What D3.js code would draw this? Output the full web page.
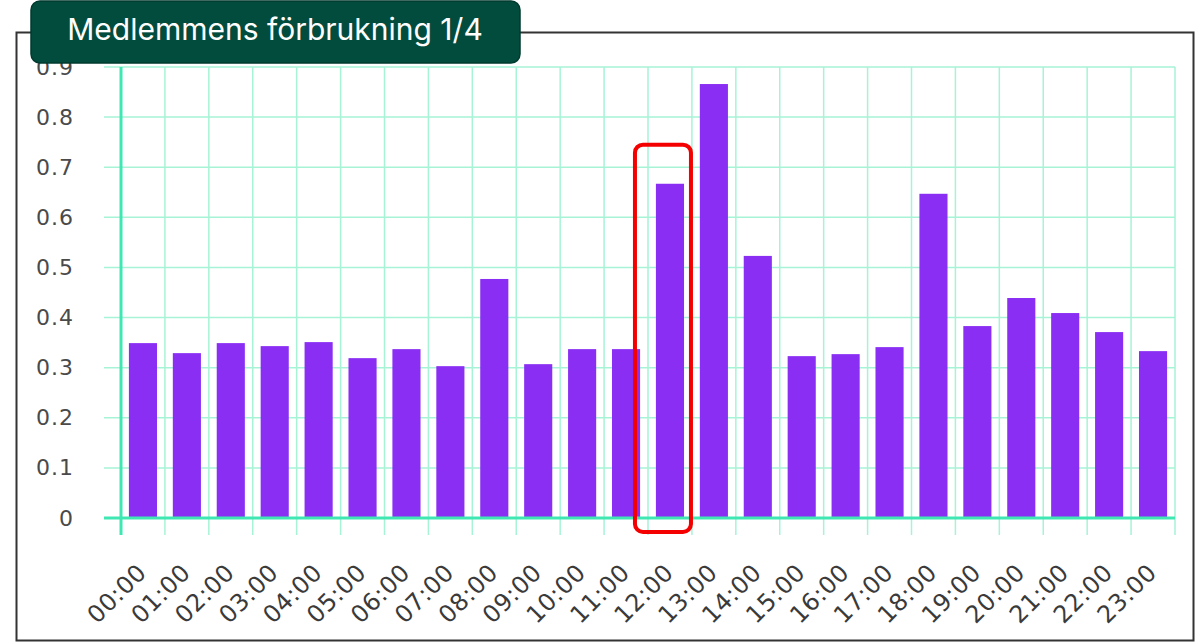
<!DOCTYPE html>
<html>
<head>
<meta charset="utf-8">
<script src="https://cdn.jsdelivr.net/npm/d3@7"></script>
<style>
  body{margin:0;background:#fff;}
  svg{display:block;}
</style>
</head>
<body>
<svg id="main"></svg>
<script>
//--------data----------
const hours = ['00:00','01:00','02:00','03:00','04:00','05:00','06:00','07:00','08:00','09:00','10:00','11:00',
  '12:00','13:00','14:00','15:00','16:00','17:00','18:00','19:00','20:00','21:00','22:00','23:00'];
const usage = [0.349,0.329,0.349,0.343,0.351,0.319,0.337,0.303,0.477,0.307,0.337,0.337,
  0.667,0.866,0.523,0.323,0.327,0.341,0.647,0.383,0.439,0.409,0.371,0.333];
const yTicks = [0,0.1,0.2,0.3,0.4,0.5,0.6,0.7,0.8,0.9];
const title = 'Medlemmens förbrukning 1/4';
const highlightHour = '12:00';

//--------code----------
const width = 1201, height = 642;
const titleFont = 'Inter, "DejaVu Sans", sans-serif';
const labelFont = '"DejaVu Sans", sans-serif';

let svg = d3.select('#main')
  .attr('width', width)
  .attr('height', height);

// outer frame
svg.append('rect')
  .attr('x', 16.5).attr('y', 32.5)
  .attr('width', 1177).attr('height', 608)
  .attr('fill', 'none')
  .attr('stroke', '#333')
  .attr('stroke-width', 2);

let sx = d3.scaleBand().domain(hours).range([121, 1175]).paddingInner(0.36).paddingOuter(0.18);
let sy = d3.scaleLinear().domain([0, 0.9]).range([518, 67]);
let step = sx.step();
let x0 = 121;

// grid
let grid = svg.append('g');
grid.selectAll('.hgrid')
  .data(yTicks)
  .join('line')
  .attr('class','hgrid')
  .attr('x1', 104).attr('x2', 1175)
  .attr('y1', d=>sy(d)).attr('y2', d=>sy(d))
  .attr('stroke', '#a6f3d6')
  .attr('stroke-width', 1.5);
grid.selectAll('.vgrid')
  .data(d3.range(hours.length+1))
  .join('line')
  .attr('class','vgrid')
  .attr('x1', i=>x0+i*step).attr('x2', i=>x0+i*step)
  .attr('y1', sy(0.9)).attr('y2', 535)
  .attr('stroke', '#a6f3d6')
  .attr('stroke-width', 1.5);

// bars
svg.selectAll('.bar')
  .data(usage)
  .join('rect')
  .attr('class','bar')
  .attr('x', (d,i)=>sx(hours[i]))
  .attr('width', sx.bandwidth())
  .attr('y', d=>sy(d))
  .attr('height', d=>sy(0)-sy(d))
  .attr('fill', '#8a2ef4');

// axis lines
svg.append('line')
  .attr('x1', 104).attr('x2', 1175)
  .attr('y1', sy(0)).attr('y2', sy(0))
  .attr('stroke', '#3fe8b2').attr('stroke-width', 3);
svg.append('line')
  .attr('x1', x0).attr('x2', x0)
  .attr('y1', sy(0.9)).attr('y2', 535)
  .attr('stroke', '#3fe8b2').attr('stroke-width', 3);

// y labels
let ay = d3.axisLeft(sy).tickValues(yTicks).tickSize(0).tickPadding(0).tickFormat(d=>d===0?'0':d3.format('.1f')(d));
let gy = svg.append('g')
  .attr('transform', 'translate(74,0)')
  .call(ay);
gy.select('.domain').remove();
gy.selectAll('text')
  .attr('fill', '#4a4a4a')
  .style('font-family', labelFont)
  .style('font-size', '22px')
  .style('letter-spacing', '1px');

// x labels
let ax = d3.axisBottom(sx).tickSize(0).tickPadding(0);
let gx = svg.append('g')
  .call(ax);
gx.select('.domain').remove();
gx.selectAll('text')
  .attr('fill', '#3a3a3a')
  .style('font-family', labelFont)
  .style('font-size', '24px')
  .style('letter-spacing', '0.5px')
  .attr('text-anchor', 'end')
  .attr('y', 0)
  .attr('dy', 0)
  .attr('transform', 'translate(5,574) rotate(-45)');

// highlight box
let hx = sx(highlightHour) + sx.bandwidth()/2;
svg.append('rect')
  .attr('x', hx-35).attr('y', sy(0.745))
  .attr('width', 56).attr('height', 532-sy(0.745))
  .attr('rx', 8)
  .attr('fill', 'none')
  .attr('stroke', '#f40000')
  .attr('stroke-width', 4);

// title box
svg.append('rect')
  .attr('x', 31).attr('y', 1)
  .attr('width', 489).attr('height', 62)
  .attr('rx', 9)
  .attr('fill', '#024c3e')
  .attr('stroke', '#013a2f')
  .attr('stroke-width', 1.5);
svg.append('text')
  .attr('x', 275).attr('y', 40)
  .attr('text-anchor', 'middle')
  .attr('fill', '#fff')
  .style('font-family', titleFont)
  .style('font-size', '30px')
  .text(title);
</script>
</body>
</html>
